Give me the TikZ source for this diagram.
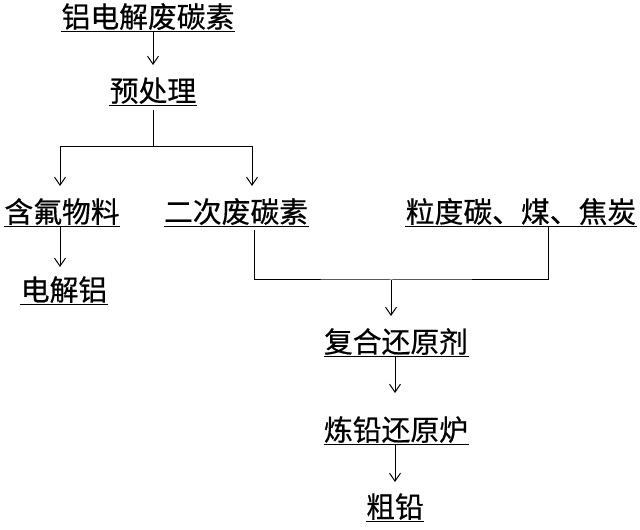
\documentclass[tikz,border=0pt]{standalone}
\usepackage{fontspec}
\newfontfamily\cjk[FakeBold=0.5]{Noto Sans CJK SC}
\usetikzlibrary{arrows.meta}

\begin{document}
\begin{tikzpicture}[x=1pt, y=1pt, line width=1pt,
    stage/.style={font=\cjk\fontsize{28.8}{30}\selectfont, anchor=south,
      inner xsep=0pt, inner ysep=0pt, text height=25pt, text depth=4pt,
      append after command={(\tikzlastnode.south west) edge (\tikzlastnode.south east)}},
    flow/.style={-{Straight Barb[length=8pt, width=11pt]}}]
      \useasboundingbox (0,0) rectangle (640,530);

      \node[stage] (waste) at (148,498) {铝电解废碳素};
      \node[stage] (pre) at (153,424) {预处理};
      \node[stage] (fluor) at (62,303) {含氟物料};
      \node[stage] (second) at (236,303) {二次废碳素};
      \node[stage] (coke) at (521,303) {粒度碳、煤、焦炭};
      \node[stage] (alu) at (64,225) {电解铝};
      \node[stage] (agent) at (396,173) {复合还原剂};
      \node[stage] (furnace) at (396,85) {炼铅还原炉};
      \node[stage] (lead) at (395,8) {粗铅};

      \coordinate (split) at (153,383);
      \coordinate (merge) at (391,250);

      \draw[flow, shorten >=11pt] (waste.south -| pre.north) -- (pre.north);
      \draw[shorten <=4pt] (pre.south) -- (split);
      \draw[flow, shorten >=11pt] (split) -| ([xshift=-2pt]fluor.north);
      \draw[flow, shorten >=11pt] (split) -| ([xshift=16pt]second.north);
      \draw[flow, shorten >=8pt] ([xshift=-2pt]fluor.south) -- ([xshift=-4pt]alu.north);

      \draw[shorten <=3pt] ([xshift=18pt]second.south) |- (merge) -| ([xshift=27pt]coke.south);
      \draw[flow, shorten >=11pt] (merge) -- (merge |- agent.north);

      \draw[flow, shorten >=22pt] ([xshift=-1pt]agent.south) -- ([xshift=-1pt]furnace.north);
      \draw[flow, shorten >=10pt] ([xshift=-1pt]furnace.south) -- (lead.north);
\end{tikzpicture}
\end{document}
